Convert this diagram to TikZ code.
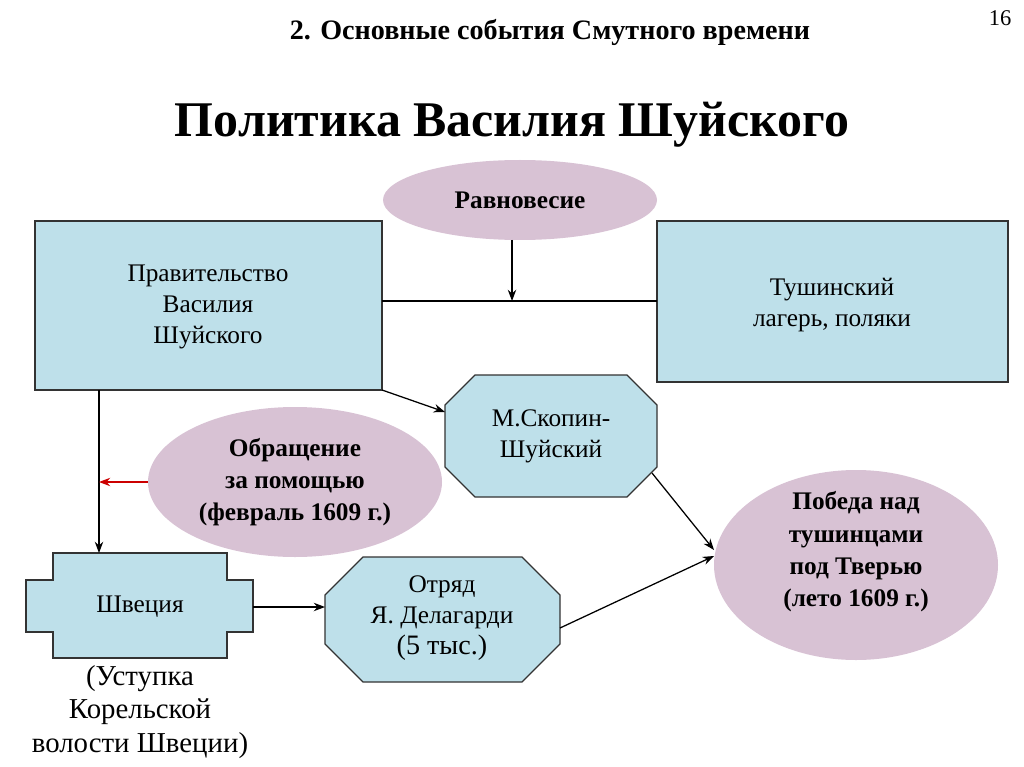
\documentclass[tikz,border=0pt]{standalone}
\usepackage{fontspec}
\setmainfont{Liberation Serif}
\usetikzlibrary{arrows.meta}
\begin{document}
\begin{tikzpicture}[x=0.025cm,y=-0.025cm,
 arr/.style={-{Stealth[length=8pt,width=6pt]},line width=0.9pt},
 txt/.style={align=center,font=\fontsize{18}{22}\selectfont},
 btxt/.style={align=center,font=\bfseries\fontsize{18}{23}\selectfont}]
\definecolor{boxc}{RGB}{190,224,234}
\definecolor{ellc}{RGB}{216,194,212}
\tikzset{blue/.style={draw=black!80,fill=boxc,line width=0.9pt}}
\useasboundingbox (0,0) rectangle (1024,767);
\node (num) at (1000,18) {\fontsize{16}{18}\selectfont 16};
\node (sub) at (550,32) {\bfseries\fontsize{20}{24}\selectfont 2. Основные события Смутного времени};
\node (tit) at (512,125) {\bfseries\fontsize{35.5}{40}\selectfont Политика Василия Шуйского};
% shapes
\fill[ellc] (520,200) ellipse [x radius=137,y radius=40];
\node[btxt] (ravt) at (520,200) {Равновесие};
\draw[blue] (35,221) rectangle (382,390);
\coordinate (govR) at (382,301);
\node[txt] (govt) at (208,307) {Правительство\\Василия\\Шуйского};
\draw[blue] (657,221) rectangle (1008,382);
\coordinate (tusL) at (657,301);
\node[txt] (tust) at (832,305) {Тушинский\\лагерь, поляки};
\draw[blue] (475,375) -- (627,375) -- (657,405) -- (657,467) -- (627,497) -- (475,497) -- (445,467) -- (445,405) -- cycle;
\node[txt] (sko) at (551,436) {М.Скопин-\\Шуйский};
\fill[ellc] (295,482) ellipse [x radius=147,y radius=75];
\node[btxt] (obr) at (295,482) {Обращение\\за помощью\\(февраль 1609 г.)};
\fill[ellc] (856,565) ellipse [x radius=142,y radius=95];
\node[btxt] (pob) at (856,552) {Победа над\\тушинцами\\под Тверью\\(лето 1609 г.)};
\draw[blue] (363,557) -- (522,557) -- (560,595) -- (560,644) -- (522,682) -- (363,682) -- (325,644) -- (325,595) -- cycle;
\node[txt] (otr) at (442,618) {Отряд\\Я. Делагарди\\{\fontsize{20}{24}\selectfont (5 тыс.)}};
\draw[blue] (53,553) -- (227,553) -- (227,580) -- (253,580) -- (253,632) -- (227,632) -- (227,658) -- (53,658) -- (53,632) -- (26,632) -- (26,580) -- (53,580) -- cycle;
\node[txt] (shv) at (140,607) {Швеция};
\node[align=center,font=\fontsize{20.5}{24}\selectfont] (ust) at (140,712) {(Уступка\\Корельской\\волости Швеции)};
% connectors
\coordinate (ravB) at (512,240);
\coordinate (mid) at (512,301);
\draw[line width=0.9pt] (govR) -- (tusL);
\draw[arr] (ravB) -- (mid);
\coordinate (g1) at (382,390); \coordinate (s1) at (445,412);
\draw[arr] (g1) -- (s1);
\coordinate (s2) at (652,473); \coordinate (p1) at (714,550);
\draw[arr] (s2) -- (p1);
\coordinate (o1) at (560,628); \coordinate (p2) at (714,556);
\draw[arr] (o1) -- (p2);
\coordinate (sw) at (253,607); \coordinate (ot) at (325,607);
\draw[arr] (sw) -- (ot);
\coordinate (gb) at (99,390); \coordinate (st) at (99,553);
\draw[arr] (gb) -- (st);
\coordinate (oL) at (148,482); \coordinate (vl) at (99,482);
\draw[arr,red!80!black] (oL) -- (vl);
\end{tikzpicture}
\end{document}
